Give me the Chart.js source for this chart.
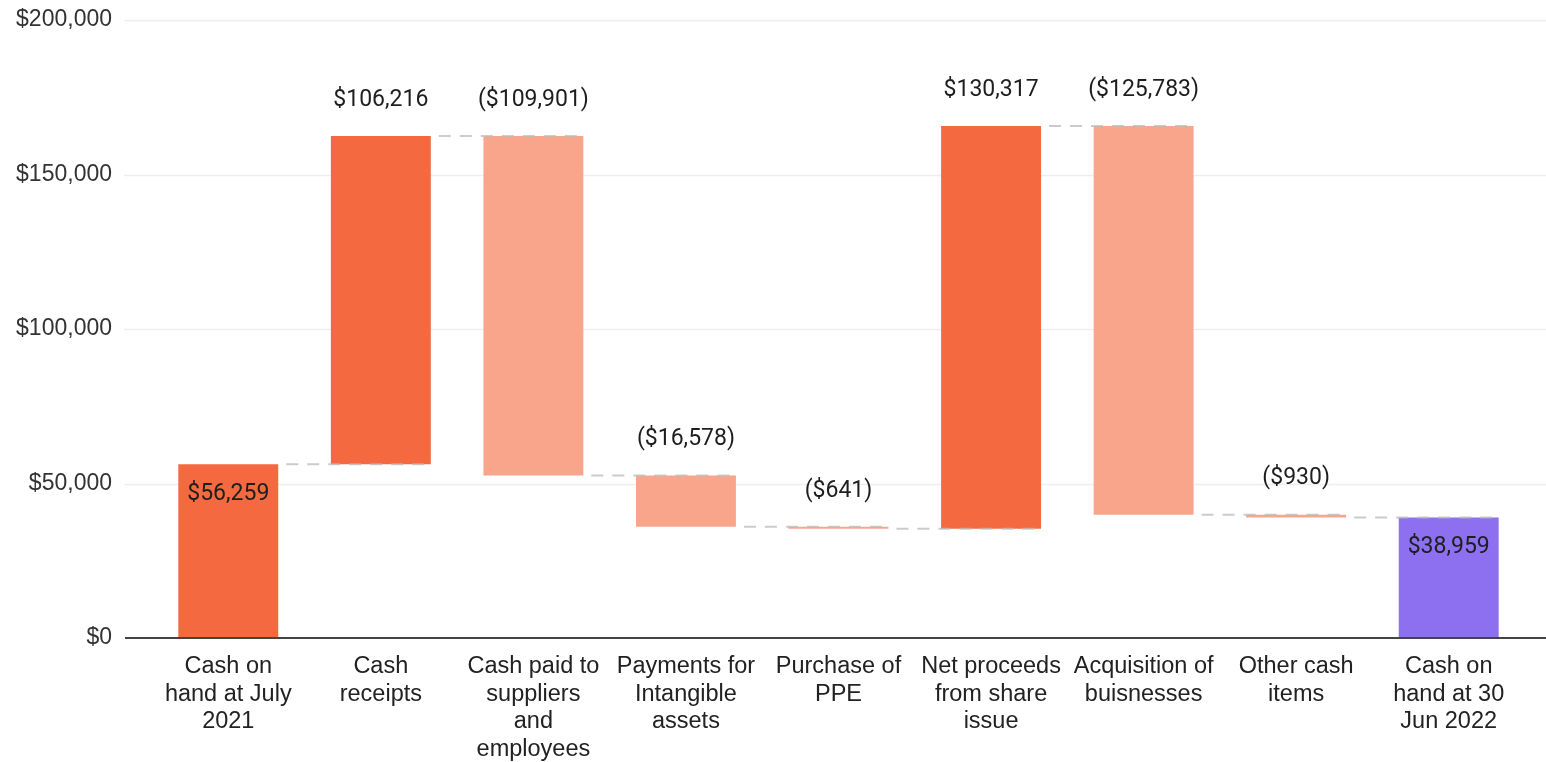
<!DOCTYPE html>
<html>
<head>
<meta charset="utf-8">
<script src="https://cdn.jsdelivr.net/npm/chart.js@4/dist/chart.umd.min.js"></script>
<style>
  html, body { margin: 0; padding: 0; background: #fff; }
  #wrap { width: 1546px; height: 762px; }
</style>
</head>
<body>
<div id="wrap"><canvas id="cashflow"></canvas></div>
<script>
// cash flow FY22, waterfall
var categories = [
    ['Cash on', 'hand at July', '2021'],
    ['Cash', 'receipts'],
    ['Cash paid to', 'suppliers', 'and', 'employees'],
    ['Payments for', 'Intangible', 'assets'],
    ['Purchase of', 'PPE'],
    ['Net proceeds', 'from share', 'issue'],
    ['Acquisition of', 'buisnesses'],
    ['Other cash', 'items'],
    ['Cash on', 'hand at 30', 'Jun 2022']
];
var movements = [56259, 106216, -109901, -16578, -641, 130317, -125783, -930, 38959];
var kinds = ['total', 'up', 'down', 'down', 'down', 'up', 'down', 'down', 'end'];
var yTicks = [0, 50000, 100000, 150000, 200000];

var colours = { total: '#F4693F', up: '#F4693F', down: '#F8A58B', end: '#8C70F0' };

// running totals -> floating bars
var floating = [];
var running = 0;
for (var i = 0; i < movements.length; i++) {
    if (kinds[i] === 'total' || kinds[i] === 'end') {
        floating.push([0, movements[i]]);
        running = movements[i];
    } else {
        var start = running;
        running = running + movements[i];
        floating.push([start, running]);
    }
}

function money(v) {
    var s = '$' + Math.abs(v).toLocaleString('en-US');
    return v < 0 ? '(' + s + ')' : s;
}

var gridPlugin = {
    id: 'gridLines',
    beforeDatasetsDraw: function(chart) {
        var ctx = chart.ctx;
        var y = chart.scales.y;
        var left = chart.chartArea.left - 28;
        var right = chart.width;
        ctx.save();
        ctx.lineWidth = 1.5;
        ctx.strokeStyle = '#eeeeee';
        for (var i = 1; i < yTicks.length; i++) {
            var py = Math.round(y.getPixelForValue(yTicks[i])) + 0.5;
            ctx.beginPath();
            ctx.moveTo(left, py);
            ctx.lineTo(right, py);
            ctx.stroke();
        }
        ctx.restore();
    },
    afterDatasetsDraw: function(chart) {
        var ctx = chart.ctx;
        var y = chart.scales.y;
        var bars = chart.getDatasetMeta(0).data;
        ctx.save();

        // dashed connectors between steps
        ctx.setLineDash([12, 9]);
        ctx.lineWidth = 2;
        ctx.strokeStyle = 'rgba(185,185,185,0.75)';
        for (var i = 1; i < bars.length; i++) {
            var level = floating[i - 1][1];
            var py = y.getPixelForValue(level);
            var x0 = bars[i - 1].x + bars[i - 1].width / 2 + 8;
            var x1 = bars[i].x + bars[i].width / 2;
            ctx.beginPath();
            ctx.moveTo(x0, py);
            ctx.lineTo(x1, py);
            ctx.stroke();
        }
        ctx.setLineDash([]);

        // x axis line
        var base = y.getPixelForValue(0);
        ctx.strokeStyle = '#444444';
        ctx.lineWidth = 2;
        ctx.beginPath();
        ctx.moveTo(chart.chartArea.left - 27, base);
        ctx.lineTo(chart.width, base);
        ctx.stroke();

        // value labels
        ctx.font = '23px Roboto';
        ctx.textAlign = 'center';
        ctx.textBaseline = 'middle';
        ctx.fillStyle = '#1e1e1e';
        for (var j = 0; j < bars.length; j++) {
            var top = y.getPixelForValue(Math.max(floating[j][0], floating[j][1]));
            var ly = (kinds[j] === 'total' || kinds[j] === 'end') ? top + 30 : top - 36;
            ctx.fillText(money(movements[j]), bars[j].x, ly);
        }
        ctx.restore();
    }
};

new Chart(document.getElementById('cashflow'), {
    type: 'bar',
    data: {
        labels: categories,
        datasets: [{
            data: floating,
            backgroundColor: kinds.map(function(k) { return colours[k]; }),
            borderWidth: 0,
            barPercentage: 0.655,
            categoryPercentage: 1
        }]
    },
    options: {
        responsive: true,
        maintainAspectRatio: false,
        animation: false,
        layout: { padding: { top: 20, left: 15, right: 21, bottom: 1 } },
        plugins: {
            legend: { display: false },
            tooltip: { enabled: false }
        },
        scales: {
            x: {
                grid: { display: false, drawTicks: false },
                border: { display: false },
                afterFit: function(s) {
                    s.paddingLeft = 0;
                    s.paddingRight = 0;
                    s.height = 123;
                },
                ticks: {
                    color: '#222222',
                    font: { family: '"Liberation Sans", Arial, sans-serif', size: 23.5, lineHeight: 1.17 },
                    padding: 15,
                    maxRotation: 0,
                    autoSkip: false
                }
            },
            y: {
                min: 0,
                max: 200000,
                grid: { display: false, drawTicks: false },
                border: { display: false },
                afterBuildTicks: function(scale) {
                    scale.ticks = yTicks.map(function(v) { return { value: v }; });
                },
                afterFit: function(s) {
                    s.paddingTop = 0;
                    s.paddingBottom = 0;
                    s.width = 137;
                },
                ticks: {
                    color: '#333333',
                    font: { family: '"Liberation Sans", Arial, sans-serif', size: 23 },
                    padding: 40,
                    callback: function(v) { return '$' + v.toLocaleString('en-US'); }
                }
            }
        }
    },
    plugins: [gridPlugin]
});
</script>
</body>
</html>
